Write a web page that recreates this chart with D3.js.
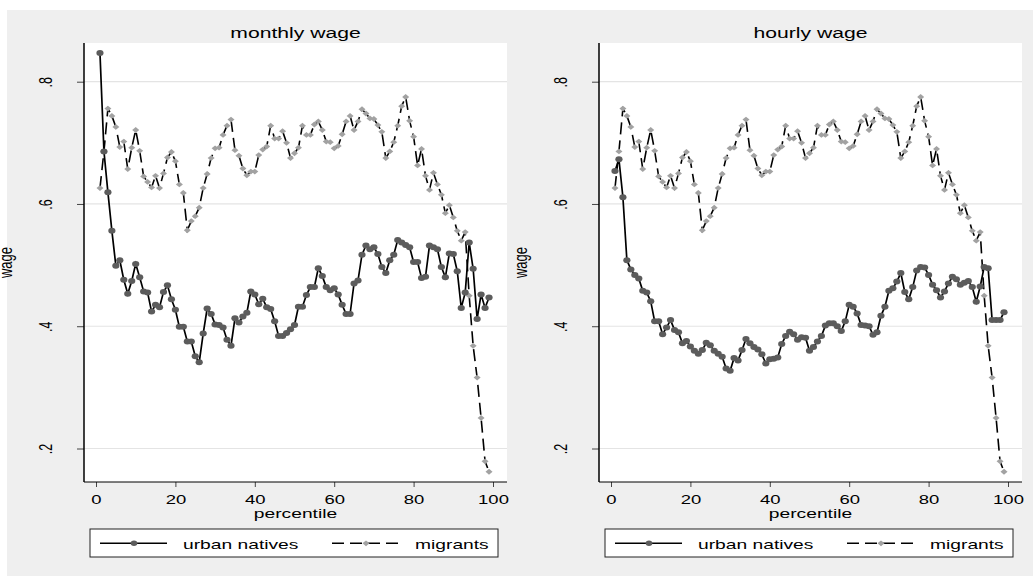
<!DOCTYPE html>
<html>
<head>
<meta charset="utf-8">
<script src="https://cdnjs.cloudflare.com/ajax/libs/d3/7.8.5/d3.min.js"></script>
<style>
  body { margin: 0; background: #fff; }
  svg { display: block; font-family: "Liberation Sans", Arial, sans-serif; }
</style>
</head>
<body>
<script>
// percentiles 1..99
const percentile = d3.range(1, 100);

const urbanMonthly = [
  0.847, 0.686, 0.619, 0.556, 0.499, 0.508, 0.476, 0.453, 0.474, 0.502,
  0.480, 0.457, 0.455, 0.424, 0.435, 0.431, 0.456, 0.467, 0.444, 0.427,
  0.399, 0.399, 0.375, 0.375, 0.351, 0.341, 0.388, 0.429, 0.420, 0.403,
  0.402, 0.398, 0.378, 0.368, 0.413, 0.406, 0.416, 0.422, 0.457, 0.452,
  0.436, 0.445, 0.431, 0.428, 0.408, 0.384, 0.384, 0.389, 0.395, 0.402,
  0.432, 0.432, 0.451, 0.464, 0.464, 0.495, 0.482, 0.464, 0.459, 0.462,
  0.452, 0.435, 0.420, 0.420, 0.470, 0.475, 0.517, 0.532, 0.526, 0.529,
  0.518, 0.497, 0.487, 0.508, 0.517, 0.541, 0.537, 0.533, 0.529, 0.505,
  0.505, 0.479, 0.481, 0.532, 0.529, 0.526, 0.497, 0.480, 0.519, 0.518,
  0.490, 0.430, 0.455, 0.537, 0.494, 0.412, 0.452, 0.430, 0.447
];

const migrantsMonthly = [
  0.626, 0.686, 0.756, 0.744, 0.726, 0.693, 0.702, 0.657, 0.692, 0.721,
  0.687, 0.645, 0.636, 0.627, 0.646, 0.626, 0.650, 0.676, 0.685, 0.670,
  0.632, 0.618, 0.557, 0.572, 0.580, 0.594, 0.626, 0.649, 0.675, 0.691,
  0.692, 0.713, 0.728, 0.738, 0.688, 0.679, 0.658, 0.647, 0.653, 0.653,
  0.680, 0.689, 0.694, 0.728, 0.707, 0.707, 0.719, 0.700, 0.675, 0.683,
  0.692, 0.728, 0.713, 0.713, 0.730, 0.735, 0.721, 0.702, 0.701, 0.691,
  0.695, 0.714, 0.735, 0.744, 0.721, 0.735, 0.755, 0.748, 0.740, 0.739,
  0.729, 0.718, 0.675, 0.686, 0.701, 0.728, 0.760, 0.775, 0.736, 0.710,
  0.663, 0.690, 0.646, 0.623, 0.651, 0.632, 0.615, 0.585, 0.598, 0.578,
  0.556, 0.540, 0.554, 0.450, 0.368, 0.316, 0.250, 0.179, 0.162
];

const urbanHourly = [
  0.654, 0.673, 0.611, 0.508, 0.493, 0.484, 0.478, 0.458, 0.455, 0.441,
  0.408, 0.408, 0.387, 0.398, 0.410, 0.394, 0.390, 0.372, 0.376, 0.367,
  0.360, 0.355, 0.361, 0.373, 0.369, 0.360, 0.355, 0.350, 0.331, 0.327,
  0.348, 0.344, 0.361, 0.379, 0.372, 0.366, 0.362, 0.354, 0.339, 0.346,
  0.347, 0.349, 0.371, 0.384, 0.391, 0.387, 0.378, 0.382, 0.381, 0.360,
  0.366, 0.375, 0.384, 0.401, 0.405, 0.405, 0.400, 0.392, 0.408, 0.435,
  0.432, 0.421, 0.402, 0.401, 0.400, 0.386, 0.390, 0.417, 0.432, 0.458,
  0.462, 0.473, 0.487, 0.456, 0.444, 0.464, 0.491, 0.497, 0.496, 0.484,
  0.468, 0.459, 0.447, 0.457, 0.470, 0.481, 0.477, 0.468, 0.471, 0.474,
  0.464, 0.440, 0.465, 0.497, 0.495, 0.410, 0.410, 0.410, 0.423
];

const migrantsHourly = [
  0.626, 0.686, 0.756, 0.744, 0.726, 0.693, 0.702, 0.657, 0.692, 0.721,
  0.687, 0.645, 0.636, 0.627, 0.646, 0.626, 0.650, 0.676, 0.685, 0.670,
  0.632, 0.618, 0.557, 0.572, 0.580, 0.594, 0.626, 0.649, 0.675, 0.691,
  0.692, 0.713, 0.728, 0.738, 0.688, 0.679, 0.658, 0.647, 0.653, 0.653,
  0.680, 0.689, 0.694, 0.728, 0.707, 0.707, 0.719, 0.700, 0.675, 0.683,
  0.692, 0.728, 0.713, 0.713, 0.730, 0.735, 0.721, 0.702, 0.701, 0.691,
  0.695, 0.714, 0.735, 0.744, 0.721, 0.735, 0.755, 0.748, 0.740, 0.739,
  0.729, 0.718, 0.675, 0.686, 0.701, 0.728, 0.760, 0.775, 0.736, 0.710,
  0.663, 0.690, 0.646, 0.623, 0.651, 0.632, 0.615, 0.585, 0.598, 0.578,
  0.556, 0.540, 0.554, 0.450, 0.368, 0.316, 0.250, 0.179, 0.162
];

const panelTitles = ["monthly wage", "hourly wage"];
const seriesNames = ["urban natives", "migrants"];
const xTicks = [0, 20, 40, 60, 80, 100];
const yTicks = [0.2, 0.4, 0.6, 0.8];
const yTickLabels = [".2", ".4", ".6", ".8"];
const xTitle = "percentile";
const yTitle = "wage";

const panels = [
  {title: panelTitles[0], urban: urbanMonthly, migrants: migrantsMonthly},
  {title: panelTitles[1], urban: urbanHourly, migrants: migrantsHourly}
];

// layout
const width = 1033, height = 576;
const sx = 1.48;            // the picture is stretched sideways, so is the text
const plotW = 423, plotH = 439;
const panelLeft = [84, 599], plotTop = 43;
const fontSize = 12.5, labelSize = 13;
const urbanColor = '#5c5c5c', migrantColor = '#a2a2a2';

const svg = d3.select('body').append('svg')
    .attr('width', width)
    .attr('height', height);

svg.append('rect')
    .attr('x', 7).attr('y', 10)
    .attr('width', width - 7).attr('height', height - 10)
    .attr('fill', '#efefef');

const x = d3.scaleLinear().domain([0, 100]).range([12, 409]);
const y = d3.scaleLinear().domain([0.2, 0.8]).range([405.5, 38.7]);

const line = d3.line()
    .x(function(d, i) { return x(percentile[i]); })
    .y(function(d) { return y(d); });

const diamond = 'M0,-2.9L3.5,0L0,2.9L-3.5,0Z';

function stretched(sel, tx, ty, s) {
    return sel.attr('x', 0).attr('y', 0)
        .attr('transform', 'translate(' + tx + ',' + ty + ') scale(' + (s || sx) + ',1)');
}

panels.forEach(function(p, i) {
    const g = svg.append('g')
        .attr('transform', 'translate(' + panelLeft[i] + ',' + plotTop + ')');

    g.append('rect')
        .attr('width', plotW)
        .attr('height', plotH)
        .attr('fill', '#fff');

    // gridlines
    g.selectAll('line.grid')
        .data(yTicks)
        .enter().append('line')
        .attr('class', 'grid')
        .attr('x1', 0).attr('x2', plotW)
        .attr('y1', function(d) { return y(d); })
        .attr('y2', function(d) { return y(d); })
        .attr('stroke', '#e4e4e4')
        .attr('stroke-width', 1.2);

    // y axis
    const yAxis = g.append('g')
        .call(d3.axisLeft(y).tickValues(yTicks).tickSize(7)
            .tickFormat(function(d, j) { return yTickLabels[j]; }));
    yAxis.select('.domain').remove();
    yAxis.selectAll('line').attr('stroke', '#444');
    yAxis.selectAll('text')
        .attr('x', 0).attr('dy', 0)
        .attr('text-anchor', 'middle')
        .attr('font-size', fontSize)
        .attr('font-family', '"Liberation Sans", Arial, sans-serif')
        .attr('fill', '#000')
        .attr('transform', 'translate(-32,0) rotate(-90) scale(1,' + sx + ')');

    // x axis
    const xAxis = g.append('g')
        .attr('transform', 'translate(0,' + plotH + ')')
        .call(d3.axisBottom(x).tickValues(xTicks).tickSize(5));
    xAxis.select('.domain').remove();
    xAxis.selectAll('line').attr('stroke', '#444');
    xAxis.selectAll('text')
        .attr('y', 22).attr('dy', 0)
        .attr('font-size', fontSize)
        .attr('font-family', '"Liberation Sans", Arial, sans-serif')
        .attr('fill', '#000')
        .attr('transform', 'scale(' + sx + ',1)');

    g.append('line')
        .attr('x1', 0).attr('x2', 0).attr('y1', 0).attr('y2', plotH)
        .attr('stroke', '#000').attr('stroke-width', 1.5);
    g.append('line')
        .attr('x1', 0).attr('x2', plotW).attr('y1', plotH).attr('y2', plotH)
        .attr('stroke', '#000').attr('stroke-width', 1);

    // migrants first, urban natives on top
    g.append('path')
        .datum(p.migrants)
        .attr('d', line)
        .attr('fill', 'none')
        .attr('stroke', '#000')
        .attr('stroke-width', 1.6)
        .attr('stroke-dasharray', '12,6');
    g.selectAll('path.mig')
        .data(p.migrants)
        .enter().append('path')
        .attr('class', 'mig')
        .attr('d', diamond)
        .attr('transform', function(d, j) { return 'translate(' + x(percentile[j]) + ',' + y(d) + ')'; })
        .attr('fill', migrantColor);

    g.append('path')
        .datum(p.urban)
        .attr('d', line)
        .attr('fill', 'none')
        .attr('stroke', '#000')
        .attr('stroke-width', 1.7);
    g.selectAll('ellipse.urb')
        .data(p.urban)
        .enter().append('ellipse')
        .attr('class', 'urb')
        .attr('cx', function(d, j) { return x(percentile[j]); })
        .attr('cy', function(d) { return y(d); })
        .attr('rx', 3.6).attr('ry', 3.0)
        .attr('fill', urbanColor);

    // titles
    stretched(g.append('text'), plotW / 2, -5.5, 1.51)
        .attr('text-anchor', 'middle')
        .attr('font-size', 14)
        .text(p.title);
    stretched(g.append('text'), plotW / 2, 474.5)
        .attr('text-anchor', 'middle')
        .attr('font-size', labelSize)
        .text(xTitle);
    g.append('text')
        .attr('x', 0).attr('y', 0)
        .attr('text-anchor', 'middle')
        .attr('font-size', labelSize)
        .attr('transform', 'translate(' + (i === 0 ? -72.5 : -72) + ',' + (plotH / 2) + ') rotate(-90) scale(1,' + sx + ')')
        .text(yTitle);

    // legend
    const lg = g.append('g').attr('transform', 'translate(6,486)');
    lg.append('rect')
        .attr('width', 408).attr('height', 28)
        .attr('fill', '#fff')
        .attr('stroke', '#222').attr('stroke-width', 1);
    lg.append('line')
        .attr('x1', 10).attr('x2', 77).attr('y1', 14.3).attr('y2', 14.3)
        .attr('stroke', '#000').attr('stroke-width', 1.6);
    lg.append('ellipse')
        .attr('cx', 44).attr('cy', 14.3).attr('rx', 3.3).attr('ry', 2.7)
        .attr('fill', urbanColor);
    stretched(lg.append('text'), 93, 20)
        .attr('font-size', labelSize)
        .text(seriesNames[0]);
    lg.append('line')
        .attr('x1', 242).attr('x2', 308).attr('y1', 14.3).attr('y2', 14.3)
        .attr('stroke', '#000').attr('stroke-width', 1.6)
        .attr('stroke-dasharray', '12,6');
    lg.append('path')
        .attr('d', diamond)
        .attr('transform', 'translate(276,14.3)')
        .attr('fill', migrantColor);
    stretched(lg.append('text'), 325, 20)
        .attr('font-size', labelSize)
        .text(seriesNames[1]);
});
</script>
</body>
</html>
